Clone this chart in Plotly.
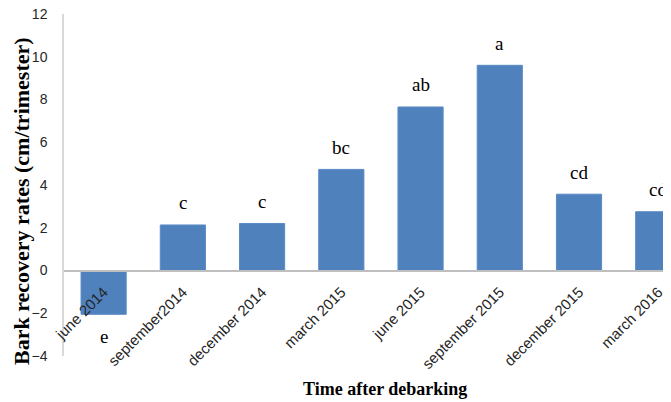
import plotly.graph_objects as go

categories = ["june 2014", "september2014", "december 2014", "march 2015",
              "june 2015", "september 2015", "december 2015", "march 2016"]
values = [-2.05, 2.13, 2.2, 4.73, 7.65, 9.6, 3.57, 2.75]
letters = ["e", "c", "c", "bc", "ab", "a", "cd", "cd"]
y_ticks = [-4, -2, 0, 2, 4, 6, 8, 10, 12]

# The page body adds an 8px offset, so the figure is sized and shifted to fit.
PLOT_W = 599
fig = go.Figure()
fig.add_trace(go.Bar(
    x=list(range(len(categories))), y=values,
    marker=dict(color="#4F81BD", line=dict(color="#5a8ac6", width=1)),
    width=0.57,
))

for i, (v, t) in enumerate(zip(values, letters)):
    fig.add_annotation(
        x=i, y=v, xref="x", yref="y", text=t, showarrow=False,
        font=dict(family="Liberation Serif", size=19, color="#000000"),
        yanchor="middle", yshift=(22 if v >= 0 else -22),
    )

fig.add_annotation(
    x=(21 - 64) / PLOT_W, y=(356 - 201) / 342, xref="paper", yref="paper",
    text="<b>Bark recovery rates (cm/trimester)</b>", showarrow=False,
    textangle=-90, xanchor="center", yanchor="middle",
    font=dict(family="Liberation Serif", size=22, color="#000000"),
)
fig.add_annotation(
    x=(385 - 64) / PLOT_W, y=(356 - 389) / 342, xref="paper", yref="paper",
    text="<b>Time after debarking</b>", showarrow=False,
    xanchor="center", yanchor="middle",
    font=dict(family="Liberation Serif", size=18, color="#000000"),
)

fig.update_layout(
    width=655, height=394,
    margin=dict(l=56, r=0, t=6, b=46),
    plot_bgcolor="white", paper_bgcolor="white",
    showlegend=False,
    xaxis=dict(
        range=[-0.5, 7.06], tickmode="array",
        tickvals=list(range(len(categories))), ticktext=categories,
        tickangle=-45, anchor="free", position=0.25, automargin=False,
        showline=True, linecolor="#bfbfbf", linewidth=2,
        showgrid=False, zeroline=False, ticks="",
        tickfont=dict(family="Liberation Sans", size=15, color="#262626"),
        ticklabelstandoff=6, ticklabeloverflow="allow",
    ),
    yaxis=dict(
        range=[-4, 12], tickmode="array", tickvals=y_ticks, automargin=False,
        showline=True, linecolor="#d9d9d9", linewidth=1.5,
        showgrid=False, zeroline=False, ticks="",
        tickfont=dict(family="Liberation Sans", size=14, color="#262626"),
        ticklabelstandoff=12, ticklabeloverflow="allow",
    ),
)

fig.write_html("out.html")
